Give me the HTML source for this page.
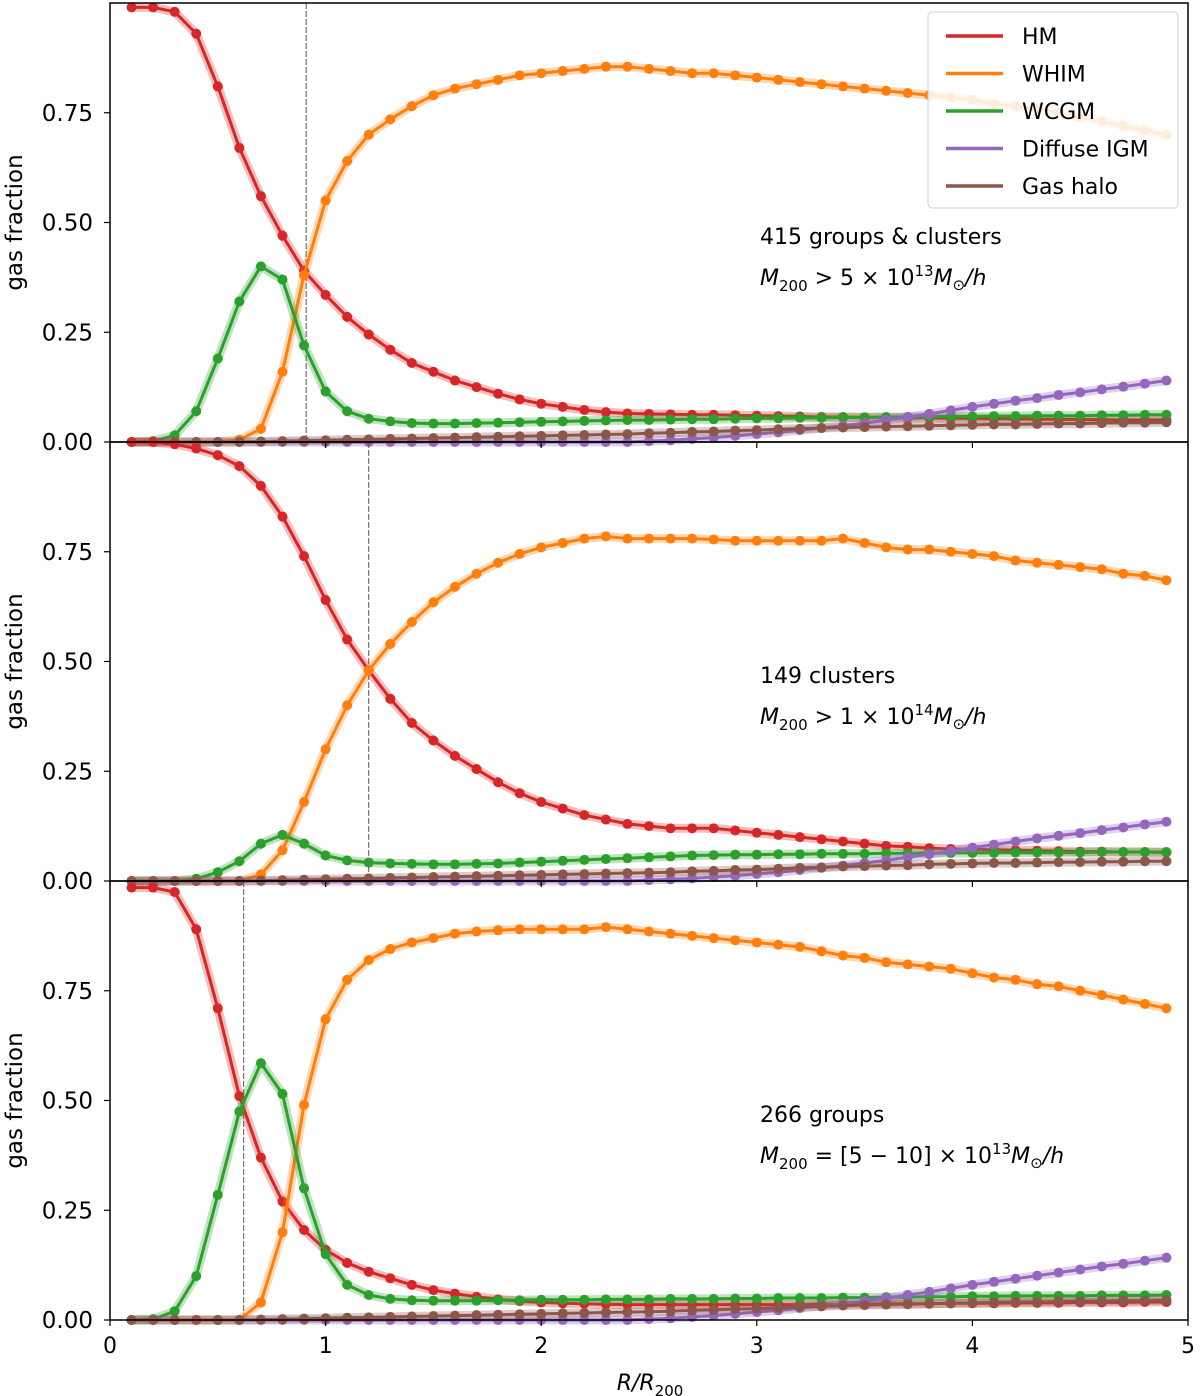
<!DOCTYPE html>
<html><head><meta charset="utf-8"><style>
html,body{margin:0;padding:0;background:#fff;}
svg{display:block;font-family:"DejaVu Sans","Liberation Sans",sans-serif;}
</style></head><body>
<svg id="chart" width="1200" height="1396" viewBox="0 0 1200 1396" xmlns="http://www.w3.org/2000/svg"></svg>
<script>
const xs=[0.1,0.2,0.3,0.4,0.5,0.6,0.7,0.8,0.9,1.0,1.1,1.2,1.3,1.4,1.5,1.6,1.7,1.8,1.9,2.0,2.1,2.2,2.3,2.4,2.5,2.6,2.7,2.8,2.9,3.0,3.1,3.2,3.3,3.4,3.5,3.6,3.7,3.8,3.9,4.0,4.1,4.2,4.3,4.4,4.5,4.6,4.7,4.8,4.9];
const seriesNames=["HM","WHIM","WCGM","Diffuse IGM","Gas halo"];
const xTicks=[0,1,2,3,4,5];
const yTicks=[0,0.25,0.5,0.75];
const yTickLabels=["0.00","0.25","0.50","0.75"];
const vlines=[0.91,1.2,0.62];
const titles=["415 groups & clusters","149 clusters","266 groups"];

const p1HM=[0.99,0.99,0.98,0.93,0.81,0.67,0.56,0.47,0.39,0.335,0.285,0.245,0.21,0.18,0.16,0.14,0.125,0.11,0.097,0.087,0.08,0.073,0.068,0.065,0.064,0.063,0.062,0.062,0.061,0.06,0.059,0.058,0.057,0.057,0.056,0.056,0.055,0.055,0.054,0.054,0.053,0.053,0.052,0.052,0.051,0.051,0.05,0.05,0.05];
const p1WHIM=[0,0,0,0,0,0.005,0.03,0.16,0.38,0.55,0.64,0.70,0.735,0.765,0.79,0.805,0.815,0.825,0.835,0.84,0.845,0.85,0.855,0.855,0.85,0.845,0.84,0.84,0.835,0.83,0.825,0.82,0.815,0.81,0.805,0.8,0.795,0.79,0.785,0.78,0.77,0.765,0.76,0.75,0.74,0.73,0.72,0.71,0.70];
const p1WCGM=[0,0.002,0.015,0.07,0.19,0.32,0.40,0.37,0.22,0.115,0.07,0.053,0.047,0.043,0.042,0.042,0.043,0.044,0.045,0.046,0.047,0.048,0.049,0.05,0.05,0.051,0.052,0.052,0.053,0.054,0.054,0.055,0.055,0.056,0.056,0.057,0.057,0.058,0.058,0.058,0.059,0.059,0.06,0.06,0.06,0.061,0.061,0.062,0.062];
const p1IGM=[0,0,0,0,0,0,0,0,0,0,0,0,0,0,0,0,0,0,0,0,0,0,0,0,0.002,0.004,0.007,0.01,0.014,0.018,0.022,0.027,0.032,0.037,0.043,0.05,0.057,0.064,0.072,0.08,0.087,0.094,0.1,0.107,0.113,0.12,0.126,0.133,0.14];
const p1Halo=[0,0,0,0,0,0,0.001,0.002,0.003,0.004,0.005,0.006,0.007,0.008,0.009,0.01,0.011,0.012,0.013,0.014,0.015,0.016,0.017,0.018,0.02,0.021,0.023,0.024,0.026,0.027,0.029,0.03,0.032,0.033,0.034,0.035,0.036,0.037,0.038,0.039,0.04,0.04,0.041,0.042,0.042,0.043,0.044,0.044,0.045];

const p2HM=[1.0,1.0,0.995,0.985,0.97,0.945,0.9,0.83,0.74,0.64,0.55,0.48,0.415,0.36,0.32,0.285,0.255,0.225,0.2,0.18,0.165,0.15,0.14,0.13,0.125,0.12,0.12,0.12,0.115,0.11,0.105,0.1,0.095,0.09,0.085,0.08,0.078,0.075,0.073,0.072,0.071,0.07,0.069,0.068,0.067,0.067,0.066,0.066,0.065];
const p2WHIM=[0,0,0,0,0,0,0.015,0.07,0.18,0.3,0.4,0.48,0.54,0.59,0.635,0.67,0.7,0.725,0.745,0.76,0.77,0.78,0.785,0.78,0.78,0.78,0.78,0.778,0.775,0.775,0.775,0.775,0.775,0.78,0.77,0.76,0.755,0.755,0.75,0.745,0.74,0.73,0.725,0.72,0.715,0.71,0.7,0.695,0.685];
const p2WCGM=[0,0,0,0.005,0.02,0.045,0.085,0.105,0.085,0.058,0.047,0.042,0.04,0.039,0.038,0.038,0.039,0.04,0.042,0.044,0.046,0.048,0.05,0.052,0.054,0.056,0.058,0.059,0.06,0.06,0.061,0.061,0.062,0.062,0.062,0.063,0.063,0.063,0.064,0.064,0.064,0.065,0.065,0.065,0.065,0.066,0.066,0.066,0.066];
const p2IGM=[0,0,0,0,0,0,0,0,0,0,0,0,0,0,0,0,0,0,0,0,0,0,0,0,0.002,0.004,0.006,0.009,0.012,0.016,0.02,0.025,0.03,0.035,0.041,0.047,0.054,0.061,0.068,0.076,0.083,0.09,0.097,0.103,0.109,0.116,0.122,0.129,0.135];
const p2Halo=[0,0,0,0,0,0,0.001,0.002,0.003,0.004,0.005,0.006,0.007,0.008,0.009,0.01,0.011,0.012,0.013,0.014,0.015,0.016,0.017,0.018,0.019,0.02,0.022,0.023,0.025,0.026,0.028,0.03,0.031,0.033,0.034,0.035,0.036,0.038,0.039,0.04,0.041,0.041,0.042,0.043,0.043,0.044,0.044,0.045,0.045];

const p3HM=[0.985,0.985,0.975,0.89,0.71,0.51,0.37,0.27,0.205,0.16,0.13,0.11,0.095,0.08,0.068,0.06,0.053,0.047,0.043,0.04,0.038,0.037,0.036,0.035,0.035,0.035,0.035,0.035,0.035,0.035,0.035,0.035,0.036,0.036,0.036,0.037,0.037,0.037,0.038,0.038,0.038,0.039,0.039,0.039,0.04,0.04,0.04,0.041,0.041];
const p3WHIM=[0,0,0,0,0,0,0.04,0.2,0.49,0.685,0.775,0.82,0.845,0.86,0.87,0.88,0.885,0.888,0.89,0.89,0.89,0.89,0.895,0.89,0.885,0.88,0.875,0.87,0.865,0.86,0.855,0.85,0.84,0.83,0.825,0.815,0.81,0.805,0.8,0.79,0.78,0.775,0.765,0.76,0.75,0.74,0.73,0.72,0.71];
const p3WCGM=[0,0.002,0.02,0.1,0.285,0.475,0.585,0.515,0.3,0.15,0.08,0.057,0.048,0.045,0.044,0.044,0.044,0.045,0.045,0.046,0.046,0.046,0.047,0.047,0.047,0.048,0.048,0.048,0.049,0.049,0.05,0.05,0.05,0.051,0.051,0.052,0.052,0.053,0.053,0.054,0.054,0.055,0.055,0.055,0.055,0.056,0.056,0.056,0.057];
const p3IGM=[0,0,0,0,0,0,0,0,0,0,0,0,0,0,0,0,0,0,0,0,0,0,0,0,0.002,0.004,0.007,0.01,0.014,0.018,0.022,0.027,0.032,0.037,0.043,0.05,0.057,0.064,0.072,0.08,0.087,0.094,0.101,0.108,0.115,0.122,0.128,0.135,0.142];
const p3Halo=[0,0,0,0,0,0,0.001,0.002,0.003,0.004,0.005,0.006,0.007,0.008,0.009,0.01,0.011,0.012,0.013,0.014,0.015,0.016,0.017,0.018,0.019,0.02,0.022,0.023,0.025,0.026,0.028,0.03,0.031,0.033,0.034,0.035,0.036,0.037,0.038,0.039,0.04,0.041,0.041,0.042,0.043,0.043,0.044,0.044,0.045];

const panels=[[p1HM,p1WHIM,p1WCGM,p1IGM,p1Halo],[p2HM,p2WHIM,p2WCGM,p2IGM,p2Halo],[p3HM,p3WHIM,p3WCGM,p3IGM,p3Halo]];
const colors=["#d62728","#ff7f0e","#2ca02c","#9467bd","#8c564b"];
const svg=document.getElementById('chart');
const NS="http://www.w3.org/2000/svg";
const L=110,R=1188,tops=[3,442,881],H=439;
function xS(v){return L+(R-L)*v/5;}
function yS(p,v){return tops[p]+H-H*v/1.0;}
function mk(tag,attrs,parent){const e=document.createElementNS(NS,tag);for(const k in attrs)e.setAttribute(k,attrs[k]);(parent||svg).appendChild(e);return e;}

const mathLines=['<tspan font-style="italic">M</tspan><tspan font-size="15" dy="6">200</tspan><tspan dy="-6"> &gt; 5 × 10</tspan><tspan font-size="15" dy="-9">13</tspan><tspan dy="9" font-style="italic">M</tspan><tspan font-size="15" dy="5">⊙</tspan><tspan dy="-5" font-style="italic">/h</tspan>',
'<tspan font-style="italic">M</tspan><tspan font-size="15" dy="6">200</tspan><tspan dy="-6"> &gt; 1 × 10</tspan><tspan font-size="15" dy="-9">14</tspan><tspan dy="9" font-style="italic">M</tspan><tspan font-size="15" dy="5">⊙</tspan><tspan dy="-5" font-style="italic">/h</tspan>',
'<tspan font-style="italic">M</tspan><tspan font-size="15" dy="6">200</tspan><tspan dy="-6"> = [5 − 10] × 10</tspan><tspan font-size="15" dy="-9">13</tspan><tspan dy="9" font-style="italic">M</tspan><tspan font-size="15" dy="5">⊙</tspan><tspan dy="-5" font-style="italic">/h</tspan>'];

for(let p=0;p<3;p++){
  const g=mk('g',{});
  
  
  const vl=mk('line',{x1:xS(vlines[p]),x2:xS(vlines[p]),y1:tops[p],y2:tops[p]+H,stroke:'#555','stroke-width':1,'stroke-dasharray':'6,2','data-x':vlines[p]},g);
  
  
  panels[p].forEach((vals,si)=>{
    const sg=mk('g',{},g);
    
    
    const d=vals.map((v,i)=>(i?'L':'M')+xS(xs[i]).toFixed(1)+','+yS(p,v).toFixed(1)).join('');
    mk('path',{d:d,fill:'none',stroke:colors[si],'stroke-width':9,'stroke-opacity':0.3,'stroke-linejoin':'round'},sg);
    mk('path',{d:d,fill:'none',stroke:colors[si],'stroke-width':3,'stroke-linejoin':'round'},sg);
    vals.forEach((v,i)=>{
      const c=mk('circle',{cx:xS(xs[i]),cy:yS(p,v),r:5,fill:colors[si]},sg);
      
      
    });
  });
  const fr=mk('rect',{x:L,y:tops[p],width:R-L,height:H,fill:'none',stroke:'#000','stroke-width':1.5},g);
  
  
  yTicks.forEach((t,i)=>{
    mk('line',{x1:L-6,x2:L,y1:yS(p,t),y2:yS(p,t),stroke:'#000','stroke-width':1.2},g);
    const tx=mk('text',{x:L-17,y:yS(p,t)+8,'text-anchor':'end','font-size':23},g);
    tx.textContent=yTickLabels[i];
    
    
  });
  xTicks.forEach(t=>{mk('line',{x1:xS(t),x2:xS(t),y1:tops[p]+H,y2:tops[p]+H+6,stroke:'#000','stroke-width':1.2},g);});
  const yl=mk('text',{x:22,y:tops[p]+H/2,'text-anchor':'middle','font-size':23,transform:'rotate(-90 22 '+(tops[p]+H/2)+')'},g);
  yl.textContent='gas fraction';
  
  
  const t1=mk('text',{x:760,y:tops[p]+241,'font-size':22},g);
  t1.textContent=titles[p];
  
  
  const t2=mk('text',{x:760,y:tops[p]+282,'font-size':22},g);
  t2.innerHTML=mathLines[p];
  
  
}
xTicks.forEach(t=>{
  const tx=mk('text',{x:xS(t),y:1353,'text-anchor':'middle','font-size':22});
  tx.textContent=String(t);
  
  
});
const xl=mk('text',{x:650,y:1390,'text-anchor':'middle','font-size':22});
xl.innerHTML='<tspan font-style="italic">R/R</tspan><tspan font-size="15" dy="6">200</tspan>';



const lg=mk('g',{});


mk('rect',{x:928,y:12,width:250,height:196,rx:4,fill:'#fff','fill-opacity':0.85,stroke:'#ccc'},lg);
seriesNames.forEach((n,i)=>{
  const y=36+i*37.5;
  const e=mk('g',{},lg);
  
  
  mk('line',{x1:946,x2:1003,y1:y,y2:y,stroke:colors[i],'stroke-width':3.5},e);
  const t=mk('text',{x:1022,y:y+8,'font-size':22},e);
  t.textContent=n;
});
</script>
</body></html>
